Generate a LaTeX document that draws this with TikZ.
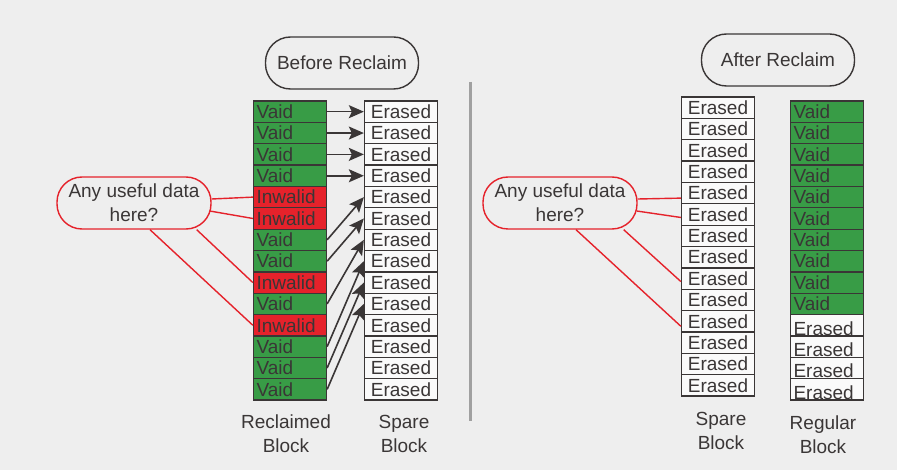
\documentclass[tikz,border=0pt]{standalone}
\usepackage{fontspec}
\setmainfont{Liberation Sans}
\usetikzlibrary{arrows.meta,calc}
\definecolor{bg}{HTML}{EEEEEE}
\definecolor{ink}{HTML}{3A3636}
\definecolor{vgreen}{HTML}{389C46}
\definecolor{ired}{HTML}{E5222B}
\definecolor{divg}{HTML}{A0A0A0}
\begin{document}
\begin{tikzpicture}[x=1pt,y=-1pt,
 txt/.style={font=\fontsize{19}{24}\selectfont, text=ink},
 cell/.style={txt, draw=ink, line width=1.3pt, minimum height=21.36pt, inner ysep=0pt, inner xsep=3pt, text width=67pt, text height=13.6pt, text depth=0pt},
 vaid/.style={cell, fill=vgreen, align=left},
 inv/.style={cell, fill=ired, align=left},
 ers/.style={cell, fill=white!70!bg, align=center},
 rers/.style={cell, fill=white!70!bg, align=left, text height=19.5pt},
 pill/.style={txt, draw=ink, line width=1.4pt, rounded corners=25pt, minimum width=153pt, minimum height=52pt, align=center},
 callout/.style={txt, draw=ired, line width=1.4pt, rounded corners=25pt, minimum width=154pt, minimum height=52pt, align=center, inner sep=0pt},
 arr/.style={draw=ink, line width=1.6pt, -{Stealth[length=15pt,width=13pt,inset=3pt]}},
 rl/.style={draw=ired, line width=1.4pt},
 lbl/.style={txt, align=center}]
\fill[bg] (0,0) rectangle (897,470);
\useasboundingbox (0,0) rectangle (897,470);
% divider
\draw[divg, line width=3pt] (470.5,82) -- (470.5,421);
% titles
\node[pill] (before) at (342,63) {Before Reclaim};
\node[pill] (after) at (778,60) {After Reclaim};
% reclaimed block
\foreach \s/\t [count=\i from 0] in {vaid/Vaid,vaid/Vaid,vaid/Vaid,vaid/Vaid,inv/Inwalid,inv/Inwalid,vaid/Vaid,vaid/Vaid,inv/Inwalid,vaid/Vaid,inv/Inwalid,vaid/Vaid,vaid/Vaid,vaid/Vaid}
  \node[\s] (L\i) at (290,{111.68+21.36*\i}) {\t};
% spare block (left)
\foreach \i in {0,...,13}
  \node[ers] (S\i) at (401,{111.68+21.36*\i}) {Erased};
% spare block (right)
\foreach \i in {0,...,13}
  \node[ers] (R\i) at (718,{107.68+21.36*\i}) {Erased};
% regular block
\foreach \s/\t [count=\i from 0] in {vaid/Vaid,vaid/Vaid,vaid/Vaid,vaid/Vaid,vaid/Vaid,vaid/Vaid,vaid/Vaid,vaid/Vaid,vaid/Vaid,vaid/Vaid,rers/Erased,rers/Erased,rers/Erased,rers/Erased}
  \node[\s] (G\i) at (827,{111.68+21.36*\i}) {\t};
% arrows
\foreach \a/\b in {0/0,1/1,2/2,3/3,6/4,7/5,9/6,11/7,12/8,13/9}
  \draw[arr] (L\a.east) -- (S\b.west);
% callouts
\node[callout] (cl) at (134,203) {Any useful data\\here?};
\node[callout] (cr) at (560,203) {Any useful data\\here?};
\draw[rl] ($(cl.east)+(0,-4)$) -- (L4.west);
\draw[rl] ($(cl.east)+(-2,8)$) -- (L5.west);
\draw[rl] ($(cl.south east)+(-15,0)$) -- (L8.west);
\draw[rl] ($(cl.south)+(16,0)$) -- (L10.west);
\draw[rl] ($(cr.east)+(0,-4)$) -- ($(R4.west)+(0,5)$);
\draw[rl] ($(cr.east)+(-1,8)$) -- ($(R5.west)+(0,3)$);
\draw[rl] ($(cr.south east)+(-14,0)$) -- ($(R8.west)+(0,3)$);
\draw[rl] ($(cr.south)+(16,0)$) -- ($(R10.west)+(0,5)$);
% labels
\node[lbl] (lab1) at (286,434) {Reclaimed\\Block};
\node[lbl] (lab2) at (404,434) {Spare\\Block};
\node[lbl] (lab3) at (721,431) {Spare\\Block};
\node[lbl] (lab4) at (823,434.5) {Regular\\Block};
\end{tikzpicture}
\end{document}
